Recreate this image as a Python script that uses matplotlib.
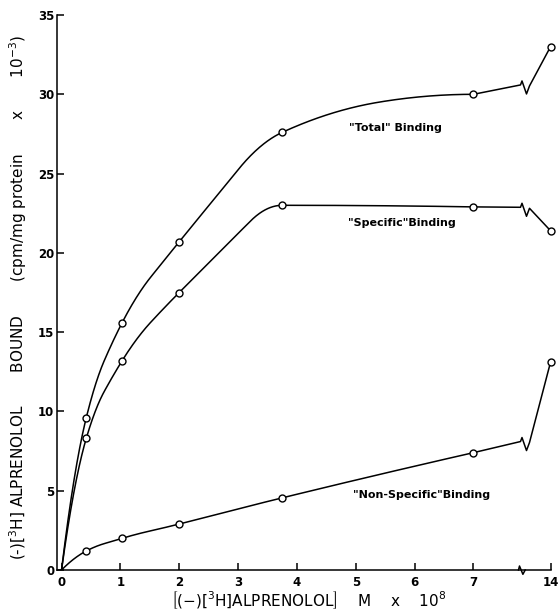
import numpy as np
import matplotlib
matplotlib.use('Agg')
import matplotlib.pyplot as plt

# concentrations (M x 10^8), the last one sits past the axis break
conc = [0.42, 1.03, 2.0, 3.75, 7.0, 14.0]
total = [9.6, 15.6, 20.7, 27.6, 30.0, 33.0]
specific = [8.3, 13.2, 17.5, 23.0, 22.9, 21.4]
nonspecific = [1.2, 2.0, 2.9, 4.55, 7.4, 13.1]

curve_labels = ['"Total" Binding', '"Specific"Binding', '"Non-Specific"Binding']
label_pos = [(5.67, 27.9), (5.79, 21.9), (6.12, 4.7)]

x_ticks = [0, 1, 2, 3, 4, 5, 6, 7, 14]
y_ticks = [0, 5, 10, 15, 20, 25, 30, 35]

BREAK_X = 7.8      # where the axis is broken
FAR_POS = 8.31     # where 14 is drawn on the axis


def to_axis(x):
    return FAR_POS if x > BREAK_X else x


def smooth_curve(x, y, n=60):
    # shape preserving quadratic spline (Schumaker) through the points,
    # keeps the hand drawn look: no wiggles between the points
    x = np.asarray(x, float)
    y = np.asarray(y, float)
    h = np.diff(x)
    d = np.diff(y) / h
    s = np.zeros(len(x))
    for k in range(1, len(x) - 1):
        if d[k - 1] * d[k] > 0:
            s[k] = np.sign(d[k]) * np.sqrt(d[k - 1] * d[k])
    s[0] = 2 * d[0] - s[1]
    end = 2 * d[-1] - s[-2]
    if d[-1] >= 0:
        end = max(0.0, end)
    s[-1] = min(end, d[-1])

    xs_all, ys_all = [], []
    fracs = sorted(np.linspace(0.05, 0.95, 91), key=lambda f: abs(f - 0.5))
    for i in range(len(h)):
        lo, hi = min(s[i], s[i + 1]), max(s[i], s[i + 1])
        frac = 0.5
        for f in fracs:
            sb = 2 * d[i] - s[i + 1] - f * (s[i] - s[i + 1])
            if lo - 1e-9 <= sb <= hi + 1e-9:
                frac = f
                break
        a = frac * h[i]
        b = h[i] - a
        sbar = 2 * d[i] - s[i + 1] - frac * (s[i] - s[i + 1])
        t1 = np.linspace(0, a, n)
        y1 = y[i] + s[i] * t1 + (sbar - s[i]) / (2 * a) * t1**2
        t2 = np.linspace(0, b, n)
        y2 = y1[-1] + sbar * t2 + (s[i + 1] - sbar) / (2 * b) * t2**2
        xs_all += list(x[i] + t1) + list(x[i] + a + t2)
        ys_all += list(y1) + list(y2)
    return np.array(xs_all), np.array(ys_all)


def px_offset(ax, x, y, offsets):
    # turn pixel offsets around a data point into data coordinates
    base = ax.transData.transform((x, y))
    pts = [base + np.array(o) for o in offsets]
    return ax.transData.inverted().transform(pts)


fig = plt.figure(figsize=(5.6, 6.11), dpi=100)
ax = fig.add_axes([0.1018, 0.0671, 0.8907, 0.9083])
ax.set_xlim(-0.077, 8.40)
ax.set_ylim(0, 35)

zigzag = [(0, 0), (1.5, 4), (6, -9), (9, -1)]

for values in [total, specific, nonspecific]:
    xs_pts = [0] + [c for c in conc if c <= 7]
    ys_pts = [0] + values[:len(xs_pts) - 1]
    cx, cy = smooth_curve(xs_pts, ys_pts)
    ax.plot(cx, cy, color='black', lw=1.1)

    slope = (ys_pts[-1] - ys_pts[-2]) / (xs_pts[-1] - xs_pts[-2])
    y_break = ys_pts[-1] + slope * (BREAK_X - 7)
    zz = px_offset(ax, BREAK_X, y_break, zigzag)
    tail_x = [7, BREAK_X] + list(zz[1:, 0]) + [to_axis(conc[-1])]
    tail_y = [ys_pts[-1], y_break] + list(zz[1:, 1]) + [values[-1]]
    ax.plot(tail_x, tail_y, color='black', lw=1.1)

    ax.plot([to_axis(c) for c in conc], values, 'o', color='black',
            mfc='white', ms=5, mew=1.0, zorder=3)

for text, (tx, ty) in zip(curve_labels, label_pos):
    ax.text(tx, ty, text, ha='center', va='center', fontsize=8,
            fontweight='bold')

# axes styling
for side in ['top', 'right']:
    ax.spines[side].set_visible(False)
ax.spines['left'].set_bounds(0, 35)
ax.spines['bottom'].set_bounds(-0.077, FAR_POS)
ax.spines['left'].set_linewidth(1.1)
ax.spines['bottom'].set_linewidth(1.1)

# break mark on the x axis
vv = px_offset(ax, BREAK_X, 0, [(-2, 0), (-1, 4), (2.4, -4.3), (4.7, 0)])
ax.plot(vv[:, 0], vv[:, 1], color='black', lw=1.1, clip_on=False)

ax.set_xticks([to_axis(v) for v in x_ticks])
ax.set_xticklabels([str(v) for v in x_ticks])
ax.set_yticks(y_ticks)
ax.set_yticklabels([str(v) for v in y_ticks])
ax.tick_params(axis='x', direction='in', length=5, width=1.1, pad=4,
               labelsize=8.5)
ax.tick_params(axis='y', direction='in', length=5, width=1.1, pad=2,
               labelsize=8.5)
for lab in ax.get_xticklabels() + ax.get_yticklabels():
    lab.set_fontweight('bold')

fig.text(309 / 560, 1 - 600 / 611,
         r'$\left[(-)[^{3}\mathrm{H}]\mathrm{ALPRENOLOL}\right]$    M    x    10$^8$',
         ha='center', va='center', fontsize=11)
fig.text(18 / 560, 1 - 297 / 611,
         '(-)[$^3$H] ALPRENOLOL       BOUND       (cpm/mg protein       x       10$^{-3}$)',
         ha='center', va='center', rotation=90, fontsize=11)

fig.savefig('out.png', dpi=100)
